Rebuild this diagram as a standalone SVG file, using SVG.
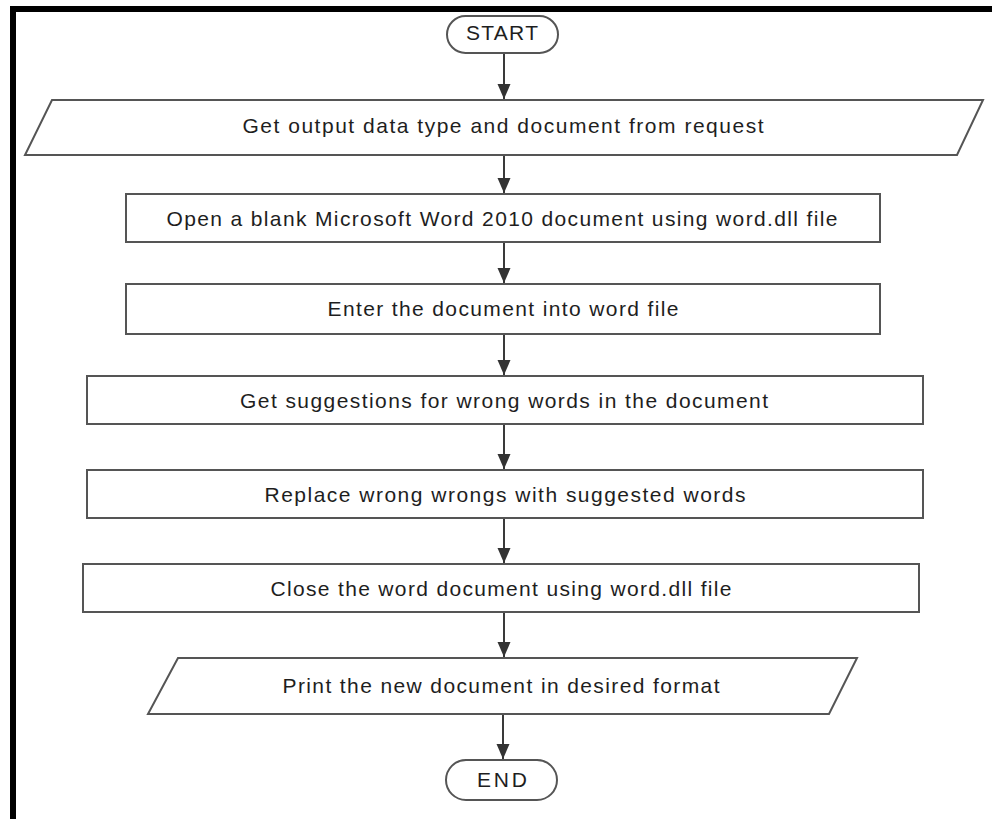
<svg xmlns="http://www.w3.org/2000/svg" width="992" height="819" viewBox="0 0 992 819">
  <style>
    .shape { fill: #ffffff; stroke: #555555; stroke-width: 2; }
    .label { font-family: "Liberation Sans", Arial, sans-serif; font-size: 21px; fill: #1e1e1e; text-anchor: middle; }
    .flow { stroke: #3a3a3a; stroke-width: 2; fill: none; marker-end: url(#arrow); }
  </style>
  <defs>
    <marker id="arrow" markerUnits="userSpaceOnUse" markerWidth="16" markerHeight="16" viewBox="0 0 16 16" refX="15" refY="8" orient="auto">
      <path d="M0,1.5 L15,8 L0,14.5 Z" fill="#333333"/>
    </marker>
  </defs>

  <rect x="0" y="0" width="992" height="819" fill="#ffffff"/>

  <!-- frame: top and left edges -->
  <rect x="10" y="6" width="982" height="6" fill="#000000"/>
  <rect x="10" y="6" width="6" height="813" fill="#000000"/>

  <g id="connectors">
    <line class="flow" x1="504" y1="53" x2="504" y2="99"/>
    <line class="flow" x1="504" y1="155" x2="504" y2="193"/>
    <line class="flow" x1="504" y1="242" x2="504" y2="283"/>
    <line class="flow" x1="504" y1="334" x2="504" y2="375"/>
    <line class="flow" x1="504" y1="424" x2="504" y2="469"/>
    <line class="flow" x1="504" y1="518" x2="504" y2="563"/>
    <line class="flow" x1="504" y1="612" x2="504" y2="657"/>
    <line class="flow" x1="503" y1="714" x2="503" y2="759"/>
  </g>

  <g id="start">
    <rect class="shape" x="447" y="16" width="111" height="37" rx="18.5" ry="18.5"/>
    <text class="label" x="502" y="40" textLength="72" lengthAdjust="spacing">START</text>
  </g>

  <g id="get-input">
    <polygon class="shape" points="52,100 983,100 957,155 25,155"/>
    <text class="label" x="503" y="133" textLength="521" lengthAdjust="spacing">Get output data type and document from request</text>
  </g>

  <g id="open-word">
    <rect class="shape" x="126" y="194" width="754" height="48"/>
    <text class="label" x="502" y="226" textLength="671" lengthAdjust="spacing">Open a blank Microsoft Word 2010 document using word.dll file</text>
  </g>

  <g id="enter-document">
    <rect class="shape" x="126" y="284" width="754" height="50"/>
    <text class="label" x="503" y="316" textLength="351" lengthAdjust="spacing">Enter the document into word file</text>
  </g>

  <g id="get-suggestions">
    <rect class="shape" x="87" y="376" width="836" height="48"/>
    <text class="label" x="504" y="408" textLength="528" lengthAdjust="spacing">Get suggestions for wrong words in the document</text>
  </g>

  <g id="replace-words">
    <rect class="shape" x="87" y="470" width="836" height="48"/>
    <text class="label" x="505" y="502" textLength="481" lengthAdjust="spacing">Replace wrong wrongs with suggested words</text>
  </g>

  <g id="close-word">
    <rect class="shape" x="83" y="564" width="836" height="48"/>
    <text class="label" x="501" y="596" textLength="461" lengthAdjust="spacing">Close the word document using word.dll file</text>
  </g>

  <g id="print-output">
    <polygon class="shape" points="178,658 857,658 829,714 148,714"/>
    <text class="label" x="501" y="693" textLength="437" lengthAdjust="spacing">Print the new document in desired format</text>
  </g>

  <g id="end">
    <rect class="shape" x="446" y="760" width="111" height="40" rx="20" ry="20"/>
    <text class="label" x="502" y="787" textLength="50" lengthAdjust="spacing">END</text>
  </g>
</svg>
